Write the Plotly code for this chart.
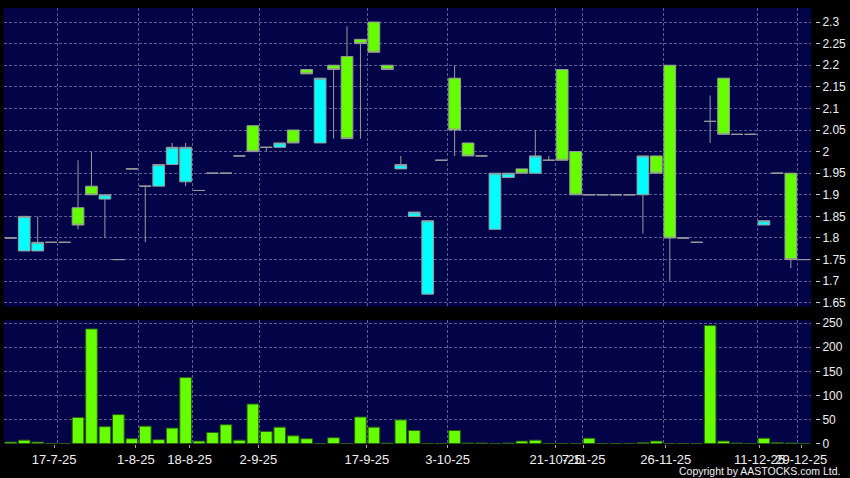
import plotly.graph_objects as go

# ---------------- data ----------------
slots = list(range(60))

opens = [1.80, 1.77, 1.77, 1.79, 1.79, 1.87, 1.92, 1.89, 1.75, 1.96,
         1.92, 1.92, 1.97, 1.93, 1.91, 1.95, 1.95, 1.99, 2.06, 2.01,
         2.01, 2.05, 2.19, 2.02, 2.20, 2.22, 2.26, 2.30, 2.20, 1.96,
         1.85, 1.67, 1.98, 2.17, 2.02, 1.99, 1.82, 1.94, 1.96, 1.95,
         1.98, 2.19, 2.00, 1.90, 1.90, 1.90, 1.90, 1.90, 1.99, 2.20,
         1.80, 1.79, 2.07, 2.17, 2.04, 2.04, 1.83, 1.95, 1.95, 1.75]
highs = [1.80, 1.85, 1.85, 1.79, 1.79, 1.98, 2.00, 1.90, 1.75, 1.96,
         1.92, 1.97, 2.02, 2.02, 1.91, 1.95, 1.95, 1.99, 2.06, 2.01,
         2.02, 2.05, 2.19, 2.17, 2.20, 2.29, 2.26, 2.30, 2.20, 1.99,
         1.86, 1.84, 1.98, 2.20, 2.02, 1.99, 1.95, 1.95, 1.96, 2.05,
         1.99, 2.19, 2.00, 1.90, 1.90, 1.90, 1.90, 1.99, 1.99, 2.20,
         1.80, 1.79, 2.13, 2.17, 2.04, 2.04, 1.84, 1.95, 1.95, 1.75]
lows = [1.80, 1.77, 1.77, 1.79, 1.79, 1.82, 1.90, 1.80, 1.75, 1.96,
        1.79, 1.92, 1.97, 1.92, 1.91, 1.95, 1.95, 1.99, 2.00, 2.00,
        2.01, 2.02, 2.18, 2.02, 2.03, 2.03, 2.03, 2.23, 2.19, 1.96,
        1.85, 1.67, 1.98, 1.99, 1.99, 1.99, 1.82, 1.94, 1.95, 1.95,
        1.98, 1.98, 1.90, 1.90, 1.90, 1.90, 1.90, 1.81, 1.95, 1.70,
        1.80, 1.79, 2.02, 2.04, 2.04, 2.04, 1.83, 1.95, 1.73, 1.75]
closes = [1.80, 1.85, 1.79, 1.79, 1.79, 1.83, 1.90, 1.90, 1.75, 1.96,
          1.92, 1.97, 2.01, 2.01, 1.91, 1.95, 1.95, 1.99, 2.00, 2.01,
          2.02, 2.02, 2.18, 2.17, 2.19, 2.03, 2.25, 2.23, 2.19, 1.97,
          1.86, 1.84, 1.98, 2.05, 1.99, 1.99, 1.95, 1.95, 1.95, 1.99,
          1.98, 1.98, 1.90, 1.90, 1.90, 1.90, 1.90, 1.99, 1.95, 1.80,
          1.80, 1.79, 2.07, 2.04, 2.04, 2.04, 1.84, 1.95, 1.75, 1.75]
volumes = [3, 7, 3, 0, 0, 54, 238, 35, 60, 10,
           36, 8, 32, 137, 5, 23, 39, 7, 82, 25,
           34, 16, 10, 0, 12, 0, 55, 34, 1, 49,
           27, 0, 0, 27, 1, 1, 0, 1, 5, 7,
           0, 0, 0, 11, 0, 0, 0, 2, 5, 0,
           0, 0, 245, 5, 1, 0, 11, 2, 1, 0]

price_ticks = [1.65, 1.7, 1.75, 1.8, 1.85, 1.9, 1.95, 2.0, 2.05, 2.1, 2.15, 2.2, 2.25, 2.3]
price_tick_text = ["1.65", "1.7", "1.75", "1.8", "1.85", "1.9", "1.95", "2", "2.05",
                   "2.1", "2.15", "2.2", "2.25", "2.3"]
vol_ticks = [0, 50, 100, 150, 200, 250]
vol_tick_text = ["0", "50", "100", "150", "200", "250"]
date_tick_pos = [3.22, 9.30, 13.30, 18.41, 26.48, 32.48, 40.51, 42.59, 48.70, 55.67, 58.78]
date_tick_text = ["17-7-25", "1-8-25", "18-8-25", "2-9-25", "17-9-25", "3-10-25",
                  "21-10-25", "7-11-25", "26-11-25", "11-12-25", "29-12-25"]
grid_pos = [3.5, 9.5, 13.5, 18.5, 26.5, 32.5, 40.5, 42.5, 48.5, 55.5, 58.5]

# ---------------- styling ----------------
BG = "#030348"
GRID = "#5c5c94"
UP = "#00ffff"
DOWN = "#66ff00"
EDGE = "#9a9a9a"
TXT = "#f0f0f0"
FONT = "Liberation Sans, Arial, sans-serif"
XR = [-0.504, 59.5]
XDOM = [0, 810 / 814]

fig = go.Figure()

fig.add_trace(go.Candlestick(
    x=slots, open=opens, high=highs, low=lows, close=closes,
    increasing=dict(fillcolor=UP, line=dict(color=EDGE, width=1)),
    decreasing=dict(fillcolor=DOWN, line=dict(color=EDGE, width=1)),
    whiskerwidth=0, xaxis="x", yaxis="y", showlegend=False, hoverinfo="skip",
))

fig.add_trace(go.Bar(
    x=slots, y=volumes,
    marker=dict(color=DOWN, line=dict(color="#2c5c12", width=1)),
    xaxis="x2", yaxis="y2", showlegend=False, hoverinfo="skip",
))

grid_common = dict(gridcolor=GRID, griddash="3px,2px", gridwidth=1)

fig.update_layout(
    width=850, height=478,
    margin=dict(l=4, r=32, t=5, b=34),
    paper_bgcolor="#000000", plot_bgcolor=BG,
    font=dict(family=FONT, color=TXT, size=12),
    boxgap=0.13, boxgroupgap=0,
    bargap=0.135,
    showlegend=False,
    xaxis=dict(
        domain=XDOM, range=XR, anchor="y",
        tickmode="array", tickvals=grid_pos, showticklabels=False, ticks="",
        showgrid=True, zeroline=False, showline=False,
        rangeslider=dict(visible=False), fixedrange=True, **grid_common,
    ),
    xaxis2=dict(
        domain=XDOM, range=XR, anchor="y2",
        tickmode="array", tickvals=date_tick_pos, ticktext=date_tick_text,
        tickangle=0, ticks="outside", ticklen=3, tickcolor="#aaaaaa",
        tickfont=dict(size=13, color=TXT, family=FONT),
        showgrid=False, zeroline=False, showline=False,
        minor=dict(tickmode="array", tickvals=grid_pos, showgrid=True,
                   ticks="", **grid_common),
        fixedrange=True,
    ),
    yaxis=dict(
        domain=[0.3155, 1], range=[1.6415, 2.3325],
        side="right", anchor="free", position=1,
        tickmode="array", tickvals=price_ticks, ticktext=price_tick_text,
        ticks="outside", ticklen=4, tickcolor="#cccccc",
        tickfont=dict(size=12, color=TXT, family=FONT),
        showgrid=True, zeroline=False, showline=False, fixedrange=True,
        **grid_common,
    ),
    yaxis2=dict(
        domain=[0, 0.284], range=[-1, 256.2],
        side="right", anchor="free", position=1,
        tickmode="array", tickvals=vol_ticks, ticktext=vol_tick_text,
        ticks="outside", ticklen=4, tickcolor="#cccccc",
        tickfont=dict(size=12, color=TXT, family=FONT),
        showgrid=True, zeroline=False, showline=False, fixedrange=True,
        **grid_common,
    ),
    annotations=[dict(
        text="Copyright by AASTOCKS.com Ltd.", xref="paper", yref="paper",
        x=(845 - 4) / 814, y=(444 - 471) / 439, xanchor="right", yanchor="middle",
        showarrow=False, font=dict(size=10.5, color=TXT, family=FONT),
    )],
)

fig.write_html(
    "out.html",
    config={"displayModeBar": False},
    post_script="document.body.style.margin='0';document.body.style.overflow='hidden';",
)
